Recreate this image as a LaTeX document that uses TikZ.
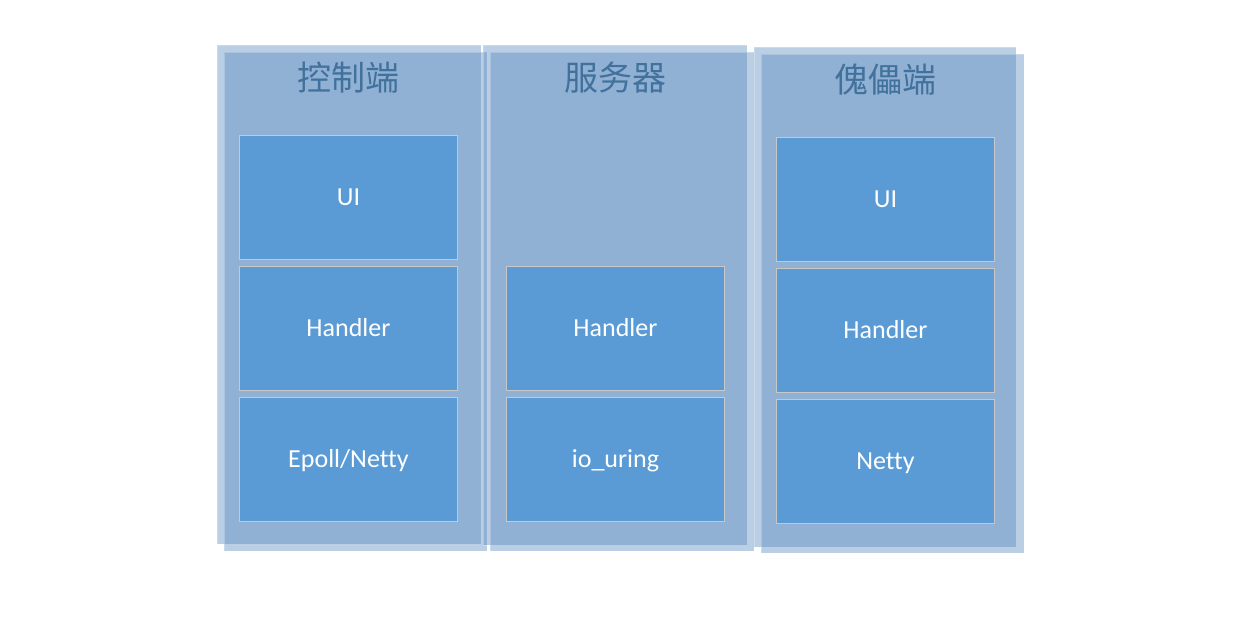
\documentclass[tikz,border=0pt]{standalone}
\usepackage{fontspec}
\setmainfont{Carlito}[Ligatures=NoCommon]
\newfontfamily\cjk{Noto Sans CJK SC}
\definecolor{colfill}{RGB}{74,129,184}
\definecolor{boxfill}{RGB}{91,155,213}
\definecolor{boxline}{RGB}{200,200,200}
\definecolor{titlecol}{RGB}{65,113,156}
\tikzset{
  colrect/.style={fill=colfill, fill opacity=0.38, draw=white, draw opacity=0.25, line width=0.8pt},
  layerbox/.style={draw=boxline, line width=0.9pt, fill=boxfill, text=white,
    minimum width=218pt, minimum height=124pt, inner sep=0pt, anchor=north west,
    text height=18.4pt, text depth=1.6pt,
    font=\fontsize{26}{30}\selectfont},
  coltitle/.style={text=titlecol, font=\cjk\fontsize{34}{40}\selectfont, inner sep=0pt}
}
\begin{document}
\begin{tikzpicture}[x=1pt,y=-1pt]
\useasboundingbox (0,0) rectangle (1237,617);
% column backgrounds (two offset translucent sheets each)
\path[colrect] (217,45) rectangle (481,544);
\path[colrect] (224,52) rectangle (487,551);
\path[colrect] (483,45) rectangle (747,545);
\path[colrect] (490,52) rectangle (754,551);
\path[colrect] (754,47) rectangle (1016,547);
\path[colrect] (761,54) rectangle (1024,553);
% titles
\node[coltitle] (t1) at (348,78) {控制端};
\node[coltitle] (t2) at (615,78) {服务器};
\node[coltitle] (t3) at (885,80) {傀儡端};
% control side
\node[layerbox] (c1) at (239,135) {UI};
\node[layerbox] (c2) at (239,266) {Handler};
\node[layerbox] (c3) at (239,397) {Epoll/Netty};
% server
\node[layerbox] (s2) at (506,266) {Handler};
\node[layerbox] (s3) at (506,397) {io\_uring};
% puppet side
\node[layerbox] (p1) at (776,137) {UI};
\node[layerbox] (p2) at (776,268) {Handler};
\node[layerbox] (p3) at (776,399) {Netty};
\end{tikzpicture}
\end{document}
